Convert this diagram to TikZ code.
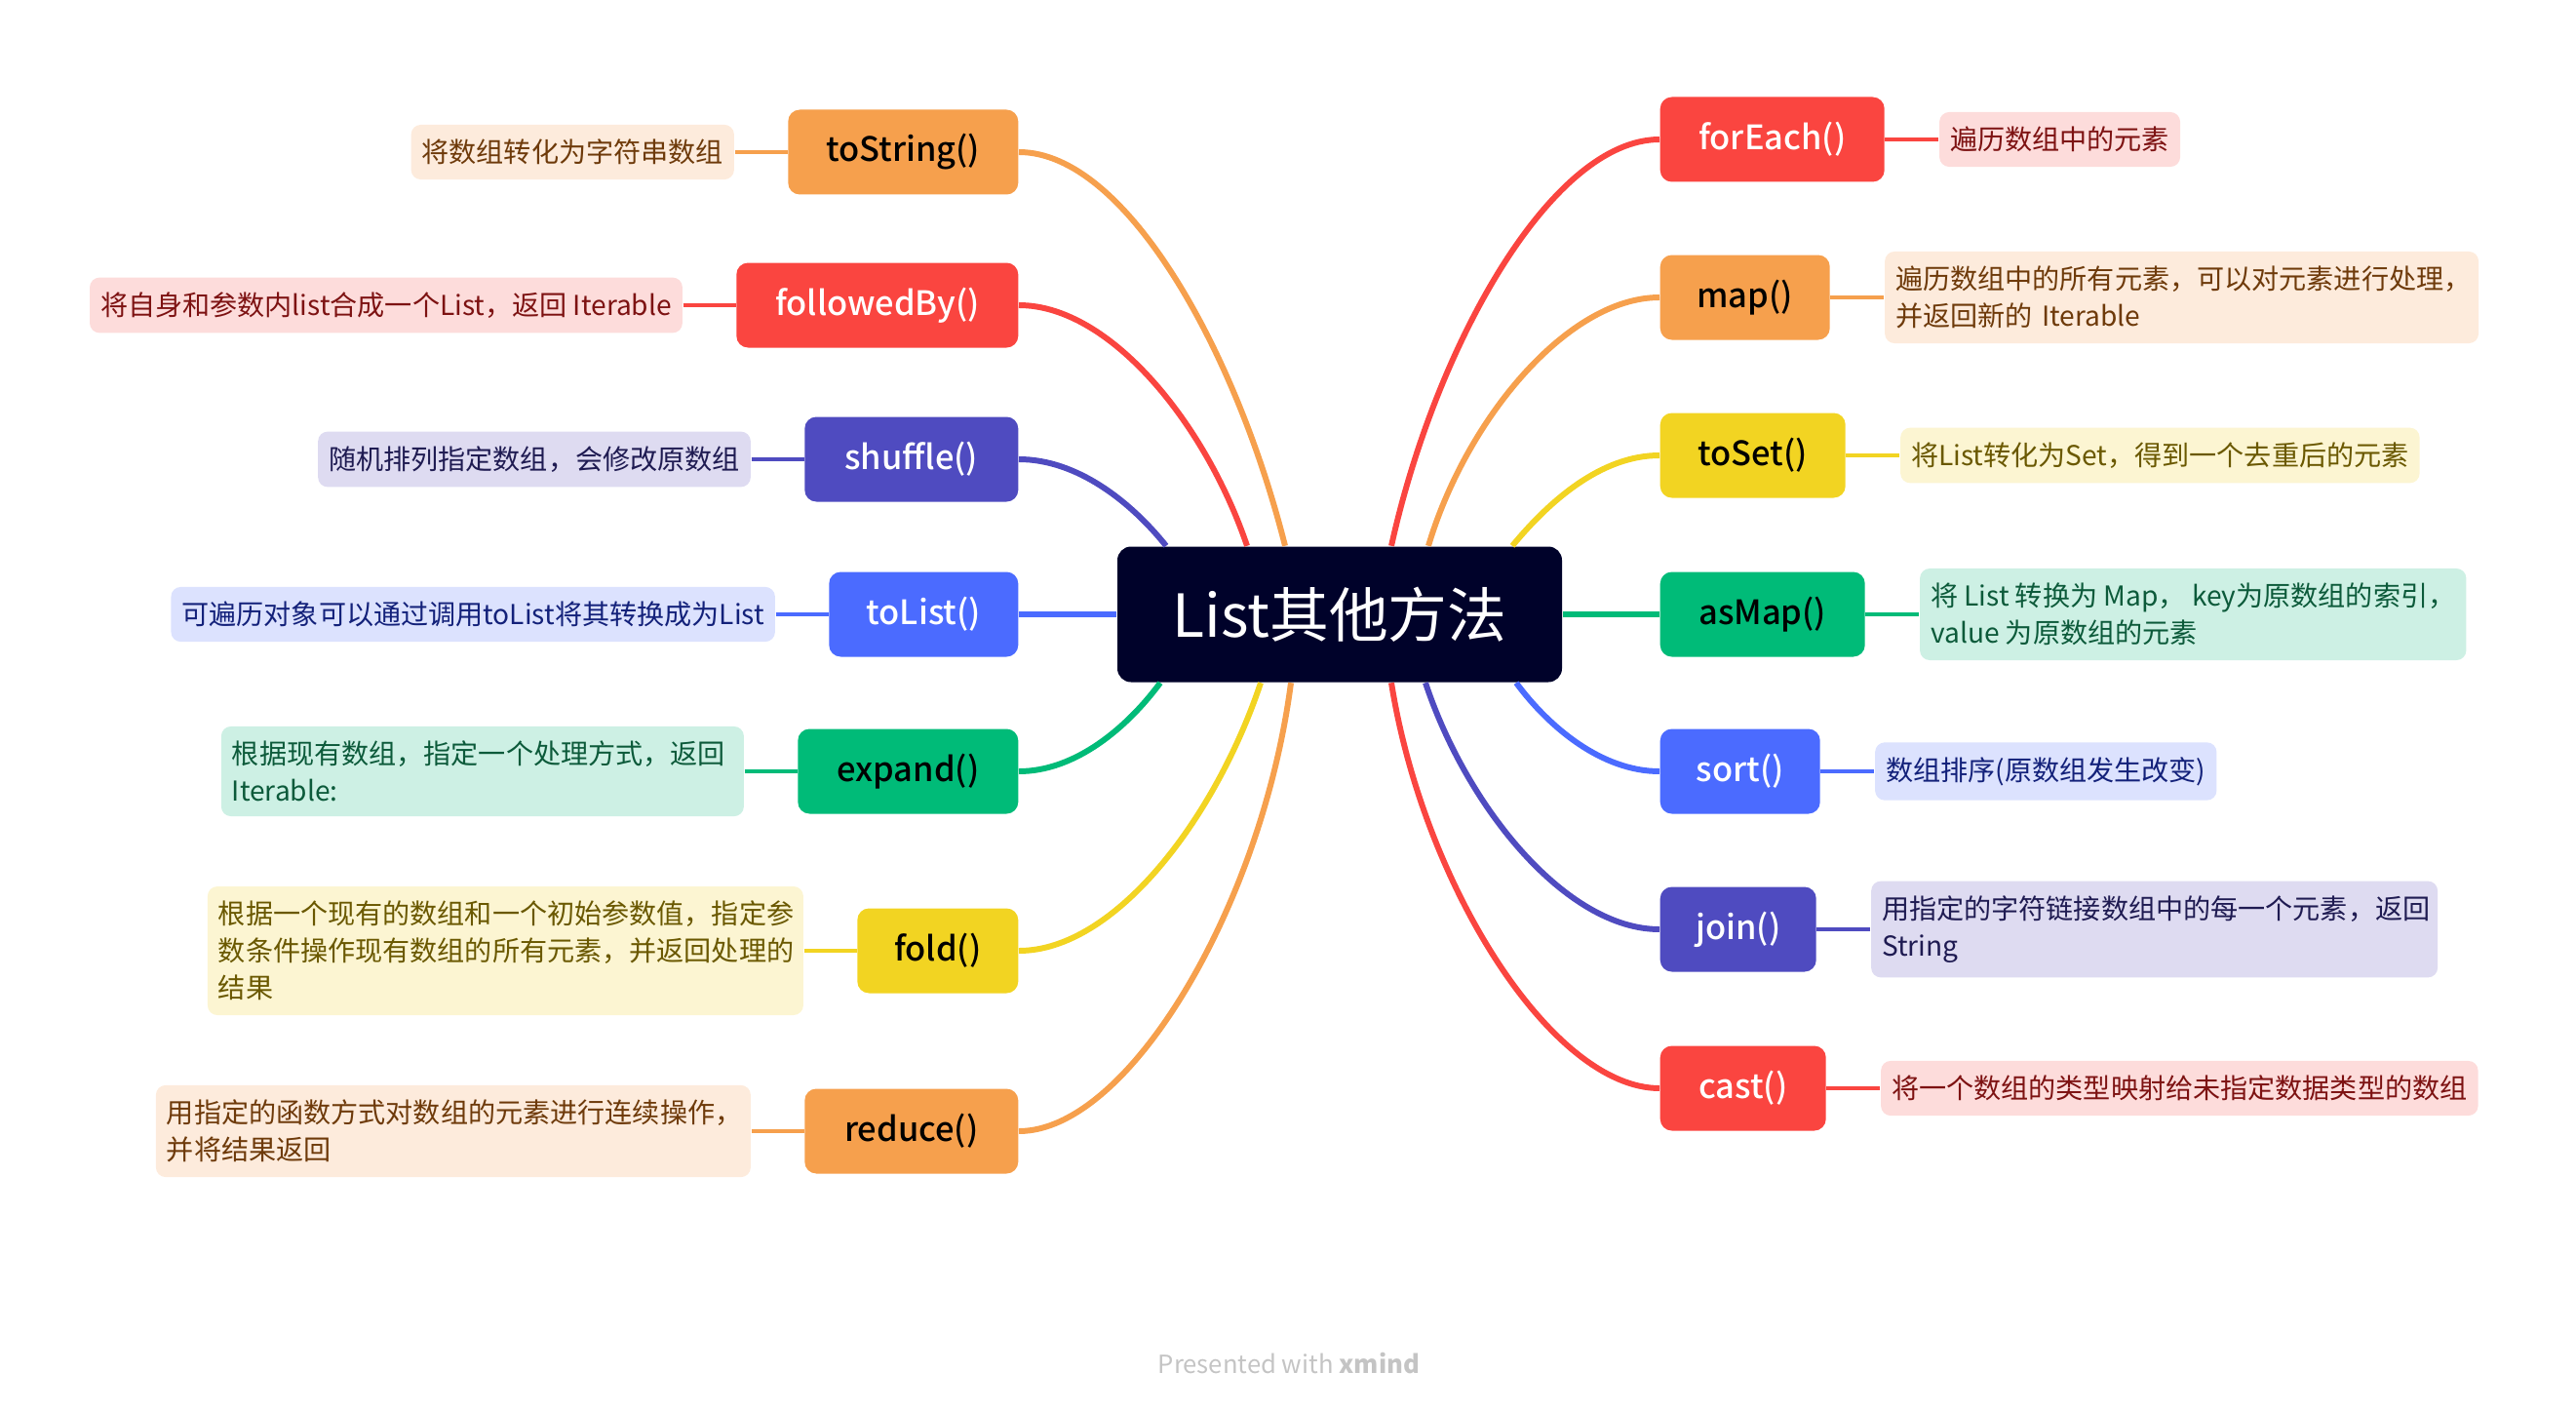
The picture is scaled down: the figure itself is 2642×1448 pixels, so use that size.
\documentclass[tikz,border=0pt]{standalone}
\usepackage{fontspec}
\setmainfont{Noto Sans CJK SC}
\newfontfamily\medfont{Noto Sans CJK SC Medium}
\usepackage{tikz}
\usetikzlibrary{positioning}

\definecolor{rootbg}{HTML}{00022A}
\definecolor{cOrange}{HTML}{F6A04D}
\definecolor{cOrangeL}{HTML}{FDEBDC}
\definecolor{cOrangeT}{HTML}{6E3A0A}
\definecolor{cRed}{HTML}{FA4540}
\definecolor{cRedL}{HTML}{FDDCDB}
\definecolor{cRedT}{HTML}{7D1212}
\definecolor{cIndigo}{HTML}{4F4BC0}
\definecolor{cIndigoL}{HTML}{DEDBF1}
\definecolor{cIndigoT}{HTML}{1F1B52}
\definecolor{cBlue}{HTML}{4B6BFF}
\definecolor{cBlueL}{HTML}{DCE2FE}
\definecolor{cBlueT}{HTML}{13217A}
\definecolor{cGreen}{HTML}{00BB78}
\definecolor{cGreenL}{HTML}{CDF0E4}
\definecolor{cGreenT}{HTML}{0C5A3A}
\definecolor{cYellow}{HTML}{F2D422}
\definecolor{cYellowL}{HTML}{FCF5D2}
\definecolor{cYellowT}{HTML}{6A5800}
\definecolor{footgray}{HTML}{C4C4C4}

\tikzset{
  root/.style={fill=rootbg, text=white, rounded corners=1.4mm, minimum width=45.6mm,
    minimum height=13.9mm, font=\fontsize{17.3}{20}\selectfont},
  topic/.style={fill=#1, rounded corners=1.2mm, minimum height=8.7mm, inner xsep=0pt,
    font=\medfont\fontsize{9.8}{11}\selectfont},
  note/.style={fill=#1, rounded corners=1mm, inner xsep=1.1mm, inner ysep=1.5mm,
    align=left, font=\fontsize{8}{10.8}\selectfont},
  branch/.style={draw=#1, line width=1.7pt},
  twig/.style={draw=#1, line width=1.4pt},
}

\begin{document}
\begin{tikzpicture}[x=0.1mm, y=-0.1mm]
  \useasboundingbox (0,0) rectangle (2642,1448);

  % centre
  \node[root] (root) at (1374,630) {List其他方法};

  % left topics
  \node[topic=cOrange, minimum width=23.6mm, anchor=east] (tostr) at (1045,156) {toString()};
  \node[topic=cRed, text=white, minimum width=28.9mm, anchor=east] (fby) at (1045,313) {followedBy()};
  \node[topic=cIndigo, text=white, minimum width=21.9mm, anchor=east] (shuf) at (1045,471) {shuffle()};
  \node[topic=cBlue, text=white, minimum width=19.4mm, anchor=east] (tolist) at (1045,630) {toList()};
  \node[topic=cGreen, minimum width=22.6mm, anchor=east] (expd) at (1045,791) {expand()};
  \node[topic=cYellow, minimum width=16.5mm, anchor=east] (fold) at (1045,975) {fold()};
  \node[topic=cOrange, minimum width=21.9mm, anchor=east] (redu) at (1045,1160) {reduce()};

  % right topics
  \node[topic=cRed, text=white, minimum width=23mm, anchor=west] (fore) at (1702,143) {forEach()};
  \node[topic=cOrange, minimum width=17.4mm, anchor=west] (map) at (1702,305) {map()};
  \node[topic=cYellow, minimum width=19mm, anchor=west] (toset) at (1702,467) {toSet()};
  \node[topic=cGreen, minimum width=21mm, anchor=west] (asmap) at (1702,630) {asMap()};
  \node[topic=cBlue, text=white, minimum width=16.4mm, anchor=west] (sort) at (1702,791) {sort()};
  \node[topic=cIndigo, text=white, minimum width=16mm, anchor=west] (join) at (1702,953) {join()};
  \node[topic=cRed, text=white, minimum width=17mm, anchor=west] (cast) at (1702,1116) {cast()};

  % notes
  \node[note=cOrangeL, text=cOrangeT, left=5.4mm of tostr] (tostrn) {将数组转化为字符串数组};
  \node[note=cRedL, text=cRedT, left=5.4mm of fby] (fbyn) {将自身和参数内list合成一个List，返回 Iterable};
  \node[note=cIndigoL, text=cIndigoT, left=5.4mm of shuf] (shufn) {随机排列指定数组，会修改原数组};
  \node[note=cBlueL, text=cBlueT, left=5.4mm of tolist] (tolistn) {可遍历对象可以通过调用toList将其转换成为List};
  \node[note=cGreenL, text=cGreenT, text width=51.4mm, left=5.4mm of expd] (expdn)
    {根据现有数组，指定一个处理方式，返回\\Iterable:};
  \node[note=cYellowL, text=cYellowT, text width=58.9mm, left=5.4mm of fold] (foldn)
    {根据一个现有的数组和一个初始参数值，指定参\\数条件操作现有数组的所有元素，并返回处理的\\结果};
  \node[note=cOrangeL, text=cOrangeT, text width=58.8mm, left=5.4mm of redu] (redun)
    {用指定的函数方式对数组的元素进行连续操作，\\并将结果返回};

  \node[note=cRedL, text=cRedT, right=5.5mm of fore] (foren) {遍历数组中的元素};
  \node[note=cOrangeL, text=cOrangeT, text width=58.7mm, right=5.5mm of map] (mapn)
    {遍历数组中的所有元素，可以对元素进行处理，\\并返回新的 Iterable};
  \node[note=cYellowL, text=cYellowT, right=5.5mm of toset] (tosetn) {将List转化为Set，得到一个去重后的元素};
  \node[note=cGreenL, text=cGreenT, right=5.5mm of asmap] (asmapn)
    {将 List 转换为 Map， key为原数组的索引，\\value 为原数组的元素};
  \node[note=cBlueL, text=cBlueT, right=5.5mm of sort] (sortn) {数组排序(原数组发生改变)};
  \node[note=cIndigoL, text=cIndigoT, text width=55.9mm, right=5.5mm of join] (joinn)
    {用指定的字符链接数组中的每一个元素，返回\\String};
  \node[note=cRedL, text=cRedT, right=5.5mm of cast] (castn) {将一个数组的类型映射给未指定数据类型的数组};

  % branches to the centre
  \draw[branch=cOrange] (tostr.east) .. controls +(109,0) and +(-51,-202) .. ([xshift=-5.6mm]root.north);
  \draw[branch=cRed] (fby.east) .. controls +(94,0) and +(-42,-124) .. ([xshift=-9.5mm]root.north);
  \draw[branch=cIndigo] (shuf.east) .. controls +(60,0) and +(-36,-45) .. ([xshift=-17.8mm]root.north);
  \draw[branch=cBlue] (tolist.east) -- (root.west);
  \draw[branch=cGreen] (expd.east) .. controls +(58,0) and +(-34,46) .. ([xshift=-18.4mm]root.south);
  \draw[branch=cYellow] (fold.east) .. controls +(99,0) and +(-46,138) .. ([xshift=-8.1mm]root.south);
  \draw[branch=cOrange] (redu.east) .. controls +(112,0) and +(-30,230) .. ([xshift=-5mm]root.south);

  \draw[branch=cRed] (fore.west) .. controls +(-110,0) and +(46,-208) .. ([xshift=5.3mm]root.north);
  \draw[branch=cOrange] (map.west) .. controls +(-95,0) and +(38,-128) .. ([xshift=9.1mm]root.north);
  \draw[branch=cYellow] (toset.west) .. controls +(-60,0) and +(38,-46) .. ([xshift=17.7mm]root.north);
  \draw[branch=cGreen] (asmap.west) -- (root.east);
  \draw[branch=cBlue] (sort.west) .. controls +(-59,0) and +(34,46) .. ([xshift=18.1mm]root.south);
  \draw[branch=cIndigo] (join.west) .. controls +(-96,0) and +(42,127) .. ([xshift=8.8mm]root.south);
  \draw[branch=cRed] (cast.west) .. controls +(-110,0) and +(33,208) .. ([xshift=5.3mm]root.south);

  % notes to topics
  \draw[twig=cOrange] (tostrn) -- (tostr);
  \draw[twig=cRed] (fbyn) -- (fby);
  \draw[twig=cIndigo] (shufn) -- (shuf);
  \draw[twig=cBlue] (tolistn) -- (tolist);
  \draw[twig=cGreen] (expdn) -- (expd);
  \draw[twig=cYellow] (foldn) -- (fold);
  \draw[twig=cOrange] (redun) -- (redu);
  \draw[twig=cRed] (fore) -- (foren);
  \draw[twig=cOrange] (map) -- (mapn);
  \draw[twig=cYellow] (toset) -- (tosetn);
  \draw[twig=cGreen] (asmap) -- (asmapn);
  \draw[twig=cBlue] (sort) -- (sortn);
  \draw[twig=cIndigo] (join) -- (joinn);
  \draw[twig=cRed] (cast) -- (castn);

  \node[text=footgray, font=\fontsize{7.3}{9}\selectfont] (foot) at (1322,1398) {Presented with \textbf{xmind}};
\end{tikzpicture}
\end{document}
